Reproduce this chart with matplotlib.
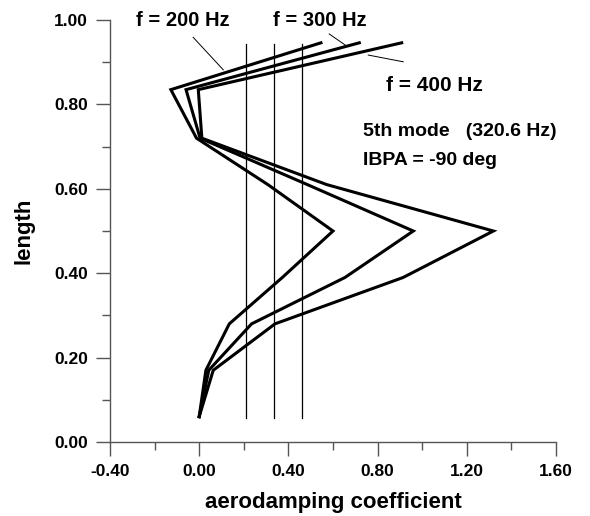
import numpy as np
import matplotlib
matplotlib.use('Agg')
import matplotlib.pyplot as plt
from matplotlib.ticker import MultipleLocator

plt.rcParams['font.family'] = ['Liberation Sans', 'DejaVu Sans']
plt.rcParams['font.weight'] = 'bold'

# blade span positions (length)
length = [0.06, 0.17, 0.28, 0.39, 0.50, 0.61, 0.72, 0.835, 0.946]
# aerodamping coefficient for each frequency
f200 = [0.00, 0.03, 0.135, 0.373, 0.600, 0.308, -0.012, -0.127, 0.546]
f300 = [0.00, 0.043, 0.235, 0.654, 0.960, 0.485, 0.004, -0.059, 0.718]
f400 = [0.00, 0.063, 0.340, 0.915, 1.319, 0.572, 0.012, -0.004, 0.908]
# vertical reference lines
vlines_x = [0.21, 0.337, 0.461]
vlines_y = [0.057, 0.943]

fig = plt.figure(figsize=(5.9, 5.16), dpi=100)
ax = fig.add_axes([0.1864, 0.1434, 0.7560, 0.8178])

for c in [f200, f300, f400]:
    ax.plot(c, length, color='black', lw=2.2, solid_joinstyle='miter')
for x in vlines_x:
    ax.plot([x, x], vlines_y, color='black', lw=0.9)

# leader lines for the labels
ax.plot([-0.027, 0.108], [0.959, 0.882], color='black', lw=0.7)
ax.plot([0.583, 0.654], [0.967, 0.941], color='black', lw=0.7)
ax.plot([0.758, 0.915], [0.917, 0.901], color='black', lw=0.7)

ax.text(-0.073, 1.0, 'f = 200 Hz', fontsize=14.5, ha='center', va='center', clip_on=False)
ax.text(0.54, 1.0, 'f = 300 Hz', fontsize=14.5, ha='center', va='center', clip_on=False)
ax.text(1.055, 0.845, 'f = 400 Hz', fontsize=15, ha='center', va='center')
ax.text(0.735, 0.735, '5th mode   (320.6 Hz)', fontsize=14, ha='left', va='center')
ax.text(0.735, 0.668, 'IBPA = -90 deg', fontsize=14, ha='left', va='center')

ax.set_xlim(-0.4, 1.6)
ax.set_ylim(0.0, 1.0)
ax.xaxis.set_major_locator(MultipleLocator(0.4))
ax.xaxis.set_minor_locator(MultipleLocator(0.2))
ax.yaxis.set_major_locator(MultipleLocator(0.2))
ax.yaxis.set_minor_locator(MultipleLocator(0.1))
ax.xaxis.set_major_formatter(plt.FormatStrFormatter('%.2f'))
ax.yaxis.set_major_formatter(plt.FormatStrFormatter('%.2f'))

for s in ['top', 'right']:
    ax.spines[s].set_visible(False)
for s in ['left', 'bottom']:
    ax.spines[s].set_color('#555555')
    ax.spines[s].set_linewidth(1.0)
ax.tick_params(which='major', direction='out', length=10, width=1.0, color='#555555',
               labelsize=12.5, pad=6)
ax.tick_params(which='minor', direction='out', length=5.5, width=1.0, color='#555555')

ax.set_xlabel('aerodamping coefficient', fontsize=16, fontweight='bold', labelpad=9)
ax.set_ylabel('length', fontsize=16, fontweight='bold', labelpad=14)

fig.savefig('out.png', dpi=100)
